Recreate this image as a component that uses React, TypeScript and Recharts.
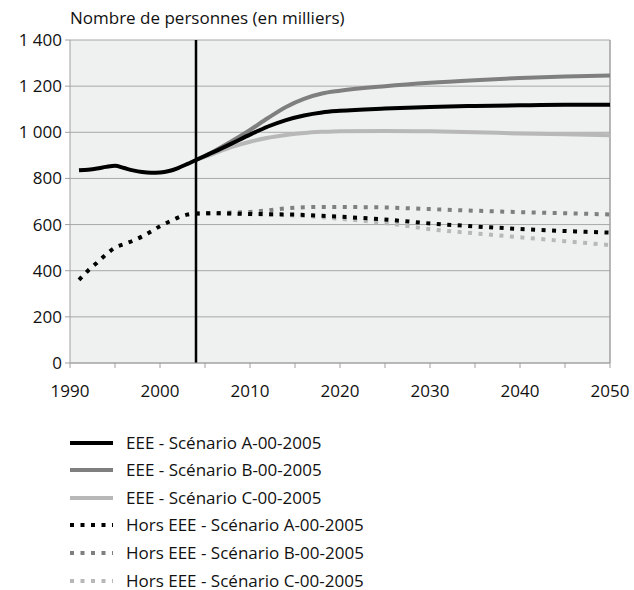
import React from 'react';
import { LineChart, Line, XAxis, YAxis, CartesianGrid, ReferenceLine } from 'recharts';

const years = [1991, 1992, 1993, 1994, 1995, 1996, 1997, 1998, 1999, 2000, 2001, 2002, 2003, 2004, 2006, 2008, 2010, 2012, 2014, 2016, 2018, 2020, 2025, 2030, 2035, 2040, 2045, 2050];

const eeeA = [835, 838, 843, 850, 855, 845, 835, 828, 825, 826, 832, 845, 862, 880, 915, 952, 990, 1025, 1053, 1073, 1086, 1093, 1103, 1110, 1114, 1117, 1119, 1119];
const eeeB = [null, null, null, null, null, null, null, null, null, null, null, null, null, 880, 918, 962, 1010, 1062, 1110, 1145, 1168, 1180, 1200, 1215, 1226, 1235, 1242, 1246];
const eeeC = [null, null, null, null, null, null, null, null, null, null, null, null, null, 880, 908, 937, 959, 976, 988, 997, 1002, 1005, 1006, 1004, 1000, 995, 991, 987];
const horsA = [360, 400, 435, 470, 500, 515, 530, 548, 570, 593, 612, 630, 643, 648, 649, 648, 646, 645, 644, 642, 638, 634, 622, 605, 592, 581, 572, 565];
const horsB = [null, null, null, null, null, null, null, null, null, null, null, null, null, 648, 650, 652, 655, 662, 670, 675, 676, 676, 674, 667, 660, 654, 649, 644];
const horsC = [null, null, null, null, null, null, null, null, null, null, null, null, null, 648, 648, 647, 645, 643, 641, 637, 632, 625, 607, 580, 562, 545, 528, 511];

const yTicks = [0, 200, 400, 600, 800, 1000, 1200, 1400];
const xTicks = [1990, 1995, 2000, 2005, 2010, 2015, 2020, 2025, 2030, 2035, 2040, 2045, 2050];
const yTitle = 'Nombre de personnes (en milliers)';

const series = [
  { key: 'horsC', name: 'Hors EEE - Scénario C-00-2005', values: horsC, color: '#b8b8b8', dashed: true },
  { key: 'horsB', name: 'Hors EEE - Scénario B-00-2005', values: horsB, color: '#7f7f7f', dashed: true },
  { key: 'horsA', name: 'Hors EEE - Scénario A-00-2005', values: horsA, color: '#000000', dashed: true },
  { key: 'eeeC', name: 'EEE - Scénario C-00-2005', values: eeeC, color: '#b8b8b8', dashed: false },
  { key: 'eeeB', name: 'EEE - Scénario B-00-2005', values: eeeB, color: '#7f7f7f', dashed: false },
  { key: 'eeeA', name: 'EEE - Scénario A-00-2005', values: eeeA, color: '#000000', dashed: false },
];

const legendOrder = ['eeeA', 'eeeB', 'eeeC', 'horsA', 'horsB', 'horsC'];

const data = years.map((y, i) => {
  const row: any = { year: y };
  series.forEach((s) => {
    row[s.key] = s.values[i];
  });
  return row;
});

const FONT = '"Open Sans", Lato, sans-serif';
const FS = 17;

const fmt = (v: number) => {
  const s = String(v);
  return s.length > 3 ? s.slice(0, s.length - 3) + ' ' + s.slice(-3) : s;
};

export default function App() {
  return (
    <div style={{ position: 'absolute', left: 0, top: 0, width: 634, height: 590, background: '#fff', fontFamily: FONT, overflow: 'hidden' }}>
      <div style={{ position: 'absolute', left: 70, top: 7, fontSize: FS, lineHeight: '22px', color: '#111', whiteSpace: 'nowrap' }}>{yTitle}</div>
      <LineChart width={634} height={590} data={data} margin={{ top: 40, right: 24, bottom: 197, left: 0 }}>
        <CartesianGrid vertical={false} stroke="#a8a8a8" strokeWidth={1} fill="#eff0f0" />
        <XAxis
          dataKey="year"
          type="number"
          domain={[1990, 2050]}
          ticks={xTicks}
          tickFormatter={(v: number) => (v % 10 === 0 ? String(v) : '')}
          interval={0}
          height={30}
          tickSize={5}
          tickMargin={17}
          stroke="#a0a0a0"
          tick={{ fill: '#111', fontSize: FS, fontFamily: FONT }}
        />
        <YAxis
          domain={[0, 1400]}
          ticks={yTicks}
          tickFormatter={fmt}
          width={70}
          tickSize={5}
          tickMargin={3}
          stroke="#a0a0a0"
          interval={0}
          tick={{ fill: '#111', fontSize: FS, fontFamily: FONT }}
        />
        <ReferenceLine x={2050} stroke="#a0a0a0" strokeWidth={1.5} />
        {series.map((s) => (
          <Line
            key={s.key}
            dataKey={s.key}
            type="monotone"
            stroke={s.color}
            strokeWidth={4}
            strokeDasharray={s.dashed ? '4 6.5' : undefined}
            dot={false}
            activeDot={false}
            isAnimationActive={false}
            connectNulls={false}
          />
        ))}
        <ReferenceLine x={2004} stroke="#000" strokeWidth={2.5} />
      </LineChart>
      {legendOrder.map((k, i) => {
        const s = series.find((x) => x.key === k)!;
        return (
          <div key={k} style={{ position: 'absolute', left: 70, top: 433.5 + i * 27.6, height: 18, display: 'flex', alignItems: 'center' }}>
            <svg width={44} height={18}>
              <line x1={0} y1={9} x2={43} y2={9} stroke={s.color} strokeWidth={4} strokeDasharray={s.dashed ? '4 6.5' : undefined} />
            </svg>
            <span style={{ marginLeft: 12, fontSize: FS, lineHeight: '18px', color: '#111', whiteSpace: 'nowrap' }}>{s.name}</span>
          </div>
        );
      })}
    </div>
  );
}
